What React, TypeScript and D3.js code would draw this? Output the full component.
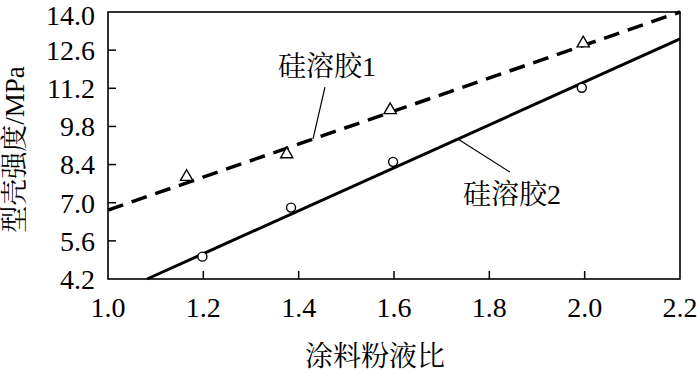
import React from "react";
import * as d3 from "d3";

const xTicks = [1.0, 1.2, 1.4, 1.6, 1.8, 2.0, 2.2];
const yTicks = [4.2, 5.6, 7.0, 8.4, 9.8, 11.2, 12.6, 14.0];

const sol1X = [1.165, 1.375, 1.592, 1.997];
const sol1Y = [7.95, 8.78, 10.4, 12.85];
const sol2X = [1.198, 1.384, 1.598, 1.994];
const sol2Y = [5.02, 6.82, 8.5, 11.22];

const fit1X = [1.0, 2.2];
const fit1Y = [6.73, 14.0];
const fit2X = [1.082, 2.2];
const fit2Y = [4.2, 13.01];

const seriesNames = ["硅溶胶1", "硅溶胶2"];
const xTitle = "涂料粉液比";
const yTitle = "型壳强度/MPa";

const W = 697;
const H = 372;
const M = { left: 108, right: 680, top: 12, bottom: 279 };
const FONT = '"Liberation Serif", "Times New Roman", "Noto Serif CJK SC", "Noto Sans CJK SC", serif';

export default function App() {
  const x = d3.scaleLinear().domain([1.0, 2.2]).range([M.left, M.right]);
  const y = d3.scaleLinear().domain([4.2, 14.0]).range([M.bottom, M.top]);
  const line = d3
    .line<[number, number]>()
    .x((d) => x(d[0]))
    .y((d) => y(d[1]));
  const fit1 = fit1X.map((v, i) => [v, fit1Y[i]] as [number, number]);
  const fit2 = fit2X.map((v, i) => [v, fit2Y[i]] as [number, number]);
  const tri = d3.symbol().type(d3.symbolTriangle).size(65)()!;

  const interp = (xs: number[], ys: number[], v: number) =>
    ys[0] + ((v - xs[0]) / (xs[1] - xs[0])) * (ys[1] - ys[0]);
  const a1x = 1.43;
  const a1 = [x(a1x), y(interp(fit1X, fit1Y, a1x))];
  const a2x = 1.734;
  const a2 = [x(a2x), y(interp(fit2X, fit2Y, a2x))];

  return (
    <svg
      width={W}
      height={H}
      style={{ position: "fixed", left: 0, top: 0, background: "#fff" }}
      fontFamily={FONT}
    >
      <rect x={0} y={0} width={W} height={H} fill="#fff" />
      {/* fitted lines */}
      <path d={line(fit1)!} fill="none" stroke="#000" strokeWidth={3.5} strokeDasharray="16 9" />
      <path d={line(fit2)!} fill="none" stroke="#000" strokeWidth={3} />
      {/* markers */}
      {sol1X.map((v, i) => (
        <path
          key={"t" + i}
          d={tri}
          transform={`translate(${x(v)},${y(sol1Y[i])})`}
          fill="#fff"
          stroke="#000"
          strokeWidth={1.4}
        />
      ))}
      {sol2X.map((v, i) => (
        <circle key={"c" + i} cx={x(v)} cy={y(sol2Y[i])} r={4.5} fill="#fff" stroke="#000" strokeWidth={1.4} />
      ))}
      {/* frame */}
      <rect
        x={M.left}
        y={M.top}
        width={M.right - M.left}
        height={M.bottom - M.top}
        fill="none"
        stroke="#000"
        strokeWidth={1.6}
      />
      {/* ticks */}
      {xTicks.map((t, i) => (
        <g key={"xt" + i}>
          {i > 0 && i < xTicks.length - 1 && (
            <line x1={x(t)} x2={x(t)} y1={M.bottom} y2={M.bottom - 8} stroke="#000" strokeWidth={1.5} />
          )}
          <text x={x(t)} y={317} textAnchor="middle" fontSize={28}>
            {t.toFixed(1)}
          </text>
        </g>
      ))}
      {yTicks.map((t, i) => {
        const top = i === yTicks.length - 1;
        return (
          <g key={"yt" + i}>
            {i > 0 && !top && (
              <line x1={M.left} x2={M.left + 8} y1={y(t)} y2={y(t)} stroke="#000" strokeWidth={1.5} />
            )}
            <text
              x={95}
              y={top ? 0 : y(t)}
              dy={top ? "0.9em" : "0.35em"}
              textAnchor="end"
              fontSize={28}
            >
              {t.toFixed(1)}
            </text>
          </g>
        );
      })}
      {/* series labels with leaders */}
      <line x1={a1[0]} y1={a1[1]} x2={a1[0] + 12} y2={a1[1] - 52} stroke="#000" strokeWidth={1.2} />
      <text x={278} y={76} fontSize={28}>
        {seriesNames[0]}
      </text>
      <line x1={a2[0]} y1={a2[1]} x2={a2[0] + 52} y2={a2[1] + 33} stroke="#000" strokeWidth={1.2} />
      <text x={463} y={204} fontSize={28}>
        {seriesNames[1]}
      </text>
      {/* axis titles */}
      <text x={375} y={366} textAnchor="middle" fontSize={28}>
        {xTitle}
      </text>
      <text
        transform={`translate(24,${(M.top + M.bottom) / 2 + 4}) rotate(-90)`}
        textAnchor="middle"
        fontSize={27}
      >
        {yTitle}
      </text>
    </svg>
  );
}
